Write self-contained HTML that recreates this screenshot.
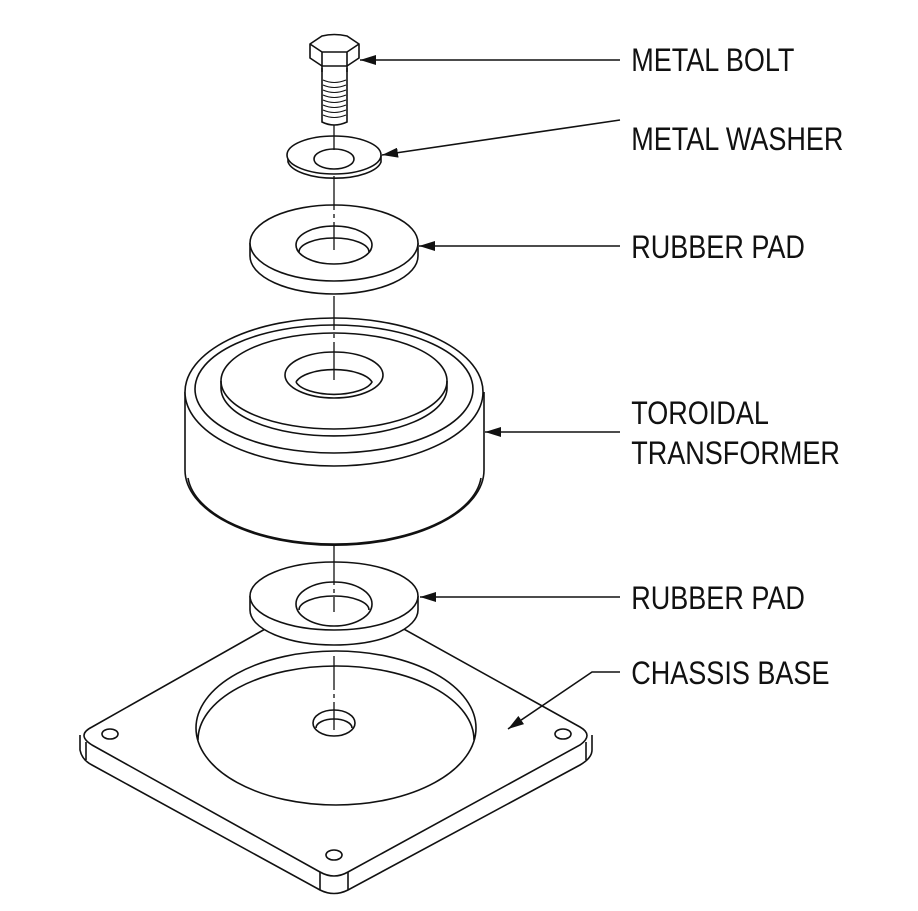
<!DOCTYPE html>
<html><head><style>
html,body{margin:0;padding:0;background:#fff;}
svg{display:block;}
text{font-family:"Liberation Sans",sans-serif;font-size:32px;fill:#111;}
</style></head><body>
<svg width="918" height="911" viewBox="0 0 918 911" xmlns="http://www.w3.org/2000/svg">
<defs>
<marker id="a" markerWidth="16" markerHeight="10" refX="16" refY="5" orient="auto" markerUnits="userSpaceOnUse">
<path d="M0,0 L16,5 L0,10 Z" fill="#111"/>
</marker>
</defs>
<g fill="none" stroke="#111" stroke-width="1.6">
<!-- Base plate -->
<path d="M80,735 L80,750 Q82,760 92,765 L320,890 Q334,897 348,890 L580,765 Q592,758 592,750 L592,735" fill="#fff"/>
<path d="M92,727 L320,598 Q334,590 348,598 L580,727 Q594,735 580,745 L348,872 Q334,880 320,872 L92,745 Q76,735 92,727 Z" fill="#fff"/>
<line x1="86" y1="742" x2="86" y2="760"/>
<line x1="586" y1="742" x2="586" y2="760"/>
<line x1="320" y1="872" x2="320" y2="890"/>
<line x1="348" y1="872" x2="348" y2="890"/>
<ellipse cx="336" cy="728" rx="140" ry="77"/>
<path d="M198,740 A138,74 0 0 1 474,740"/>
<ellipse cx="110" cy="734" rx="8" ry="5"/>
<ellipse cx="563" cy="734" rx="8" ry="5"/>
<ellipse cx="334" cy="855" rx="8" ry="5"/>
<ellipse cx="334" cy="723" rx="21" ry="13"/>
<path d="M316,728 A18,9 0 0 1 352,728"/>
<!-- Rubber pad 2 -->
<path d="M250,596 L250,610 A84,35 0 0 0 418,610 L418,596" fill="#fff"/>
<ellipse cx="334" cy="596" rx="84" ry="34" fill="#fff"/>
<ellipse cx="334" cy="604" rx="38" ry="22"/>
<path d="M299,610 A35,14 0 0 1 369,610"/>
<!-- Transformer -->
<path d="M185,392 L185,470 A149,75 0 0 0 484,470 L484,392" fill="#fff"/>
<path d="M188,478 A147,72 0 0 0 481,478"/>
<ellipse cx="334" cy="392" rx="149" ry="74" fill="#fff"/>
<ellipse cx="334" cy="389" rx="139" ry="64"/>
<path d="M221,381 L221,388 A113,48 0 0 0 447,388 L447,381"/>
<ellipse cx="334" cy="381" rx="113" ry="48"/>
<ellipse cx="334" cy="375" rx="49" ry="23"/>
<path d="M296,382 A39,16 0 0 1 372,382 A39,16 0 0 1 296,382"/>
<!-- Rubber pad 1 -->
<path d="M250,243 L250,256 A84,38 0 0 0 418,256 L418,243" fill="#fff"/>
<ellipse cx="334" cy="243" rx="84" ry="38" fill="#fff"/>
<ellipse cx="334" cy="245" rx="38" ry="19"/>
<path d="M299,252 A35,14 0 0 1 369,252"/>
<!-- Washer -->
<path d="M288,155 L288,162 A47,19 0 0 0 381,162 L381,155" fill="#fff"/>
<ellipse cx="334" cy="155" rx="47" ry="19" fill="#fff"/>
<ellipse cx="334" cy="159" rx="20" ry="10"/>
<!-- Bolt -->
<path d="M322,68 L322,122 Q334,128 347,122 L347,68" fill="#fff"/>
<g stroke-width="1.1">
<path d="M323,80 Q334,85 346,80 M323,85 Q334,90 346,85 M323,90 Q334,95 346,90 M323,95 Q334,100 346,95 M323,100 Q334,105 346,100 M323,105 Q334,110 346,105 M323,110 Q334,115 346,110 M323,115 Q334,120 346,115"/>
</g>
<path d="M310,44 L310,58 L322,66 L347,66 L359,58 L359,44 L347,36 Q334,33 322,36 Z" fill="#fff"/>
<path d="M310,44 L322,52 L347,52 L359,44 M322,52 L322,66 M347,52 L347,66"/>
<line x1="322" y1="66" x2="322" y2="72"/><line x1="347" y1="66" x2="347" y2="72"/>
<!-- centerline -->
<path d="M334,125 L334,150 M334,176 L334,210 M334,214 L334,218 M334,222 L334,250 M334,296 L334,330 M334,334 L334,338 M334,342 L334,380 M334,546 L334,585 M334,589 L334,593 M334,597 L334,612 M334,656 L334,690 M334,694 L334,698 M334,702 L334,730" stroke-width="1.3"/>
<!-- leaders -->
<line x1="620" y1="60" x2="360" y2="60" marker-end="url(#a)"/>
<line x1="620" y1="120" x2="382" y2="155" marker-end="url(#a)"/>
<line x1="620" y1="246" x2="419" y2="246" marker-end="url(#a)"/>
<line x1="620" y1="432" x2="485" y2="432" marker-end="url(#a)"/>
<line x1="620" y1="597" x2="420" y2="597" marker-end="url(#a)"/>
<polyline points="620,672 592,672 508,729" marker-end="url(#a)"/>
</g>
<g transform="scale(0.845,1)">
<text x="747" y="71">METAL BOLT</text>
<text x="747" y="150">METAL WASHER</text>
<text x="747" y="258">RUBBER PAD</text>
<text x="747" y="424">TOROIDAL</text>
<text x="747" y="464">TRANSFORMER</text>
<text x="747" y="609">RUBBER PAD</text>
<text x="747" y="684">CHASSIS BASE</text>
</g>
</svg>
</body></html>
